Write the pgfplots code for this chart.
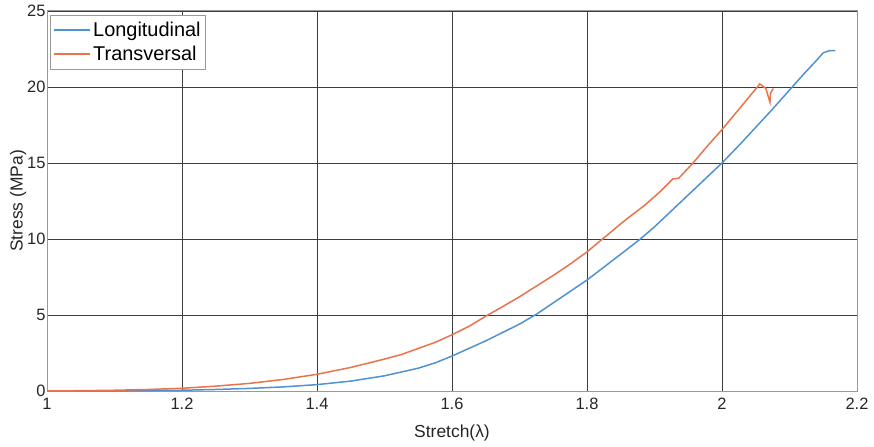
\documentclass[border=0pt]{standalone}
\usepackage{pgfplots}
\pgfplotsset{compat=1.18}
\usepackage{fontspec}
\setmainfont{Liberation Sans}
\definecolor{lblue}{RGB}{80,145,210}
\definecolor{lorange}{RGB}{235,115,75}
\definecolor{gridc}{RGB}{60,60,60}
\begin{document}
\begin{tikzpicture}
\useasboundingbox (-47bp,-56bp) rectangle (827bp,391bp);
\begin{axis}[
  at={(0,0)}, anchor=south west,
  scale only axis, width=810bp, height=380bp,
  xmin=1, xmax=2.2, ymin=0, ymax=25,
  xtick={1,1.2,...,2.2}, ytick={0,5,...,25},
  xticklabels={1,1.2,1.4,1.6,1.8,2,2.2},
  grid=major,
  major grid style={gridc, line width=0.9pt},
  axis line style={gray!80, line width=1pt},
  tick style={draw=none},
  ticklabel style={font=\fontsize{16.5}{18}\selectfont, text=black!85},
  xticklabel style={yshift=-4pt},
  yticklabel style={xshift=2pt},
  /pgf/number format/assume math mode=true,
  xlabel={Stretch(λ)}, ylabel={Stress (MPa)},
  label style={font=\fontsize{17.5}{19}\selectfont, text=black!85},
  xlabel style={at={(axis description cs:0.5,0)}, anchor=center, yshift=-42bp},
  ylabel style={yshift=-6pt},
  legend style={at={(0.004,0.99)}, anchor=north west, draw=gray!80, line width=0.8pt,
    font=\fontsize{20}{22}\selectfont, inner xsep=3pt, inner ysep=5pt, row sep=4pt,
    /tikz/every even column/.append style={column sep=4pt}},
  legend cell align=left,
  legend image post style={line width=1.6pt},
  legend image code/.code={\draw[#1] (0cm,0cm) -- (36bp,0cm);},
]
\addplot[draw=lblue, line width=1.5pt] coordinates {
(1.0,0) (1.05,0.003) (1.1,0.01) (1.15,0.025) (1.2,0.05) (1.25,0.1) (1.3,0.17) (1.35,0.27) (1.4,0.42)
(1.45,0.65) (1.5,1.0) (1.525,1.25) (1.55,1.5) (1.575,1.85) (1.6,2.3) (1.625,2.8) (1.65,3.3)
(1.675,3.85) (1.7,4.4) (1.725,5.05) (1.75,5.8) (1.775,6.55) (1.8,7.3) (1.825,8.15)
(1.85,9.0) (1.879,10.0) (1.9,10.8) (1.925,11.85) (1.95,12.9) (1.975,13.95) (2.0,15.0)
(2.025,16.15) (2.05,17.35) (2.075,18.55) (2.1,19.8) (2.12,20.8) (2.14,21.75) (2.15,22.25)
(2.16,22.4) (2.168,22.4)
};
\addlegendentry{Longitudinal}
\addplot[draw=lorange, line width=1.5pt] coordinates {
(1.0,0) (1.05,0.02) (1.1,0.05) (1.15,0.1) (1.2,0.18) (1.25,0.32) (1.3,0.5) (1.35,0.76) (1.4,1.1)
(1.45,1.55) (1.5,2.1) (1.525,2.4) (1.55,2.8) (1.575,3.2) (1.6,3.7) (1.625,4.25) (1.653,5.0)
(1.675,5.55) (1.7,6.2) (1.725,6.9) (1.75,7.6) (1.775,8.35) (1.8,9.15) (1.823,10.0)
(1.85,11.0) (1.86,11.36) (1.885,12.2) (1.908,13.1) (1.927,13.95) (1.936,14.0) (1.957,15.0)
(1.98,16.2) (2.0,17.2) (2.03,18.8) (2.056,20.2) (2.065,19.9) (2.071,19.0) (2.072,19.6) (2.076,19.9)
};
\addlegendentry{Transversal}
\end{axis}
\end{tikzpicture}
\end{document}
